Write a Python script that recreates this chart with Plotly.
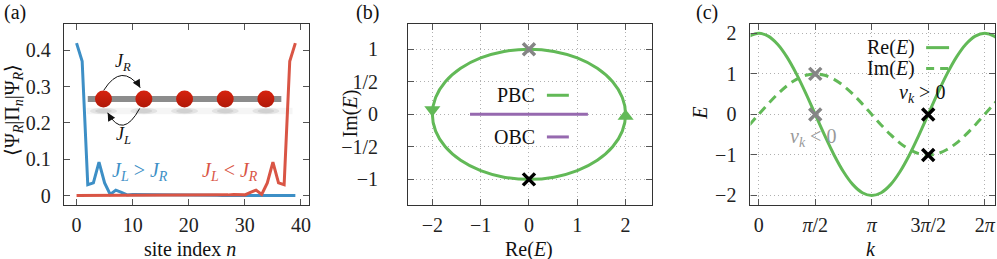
import numpy as np
import plotly.graph_objects as go

# ---------------- data ----------------
site_n = list(range(40))
psi_jl_gt_jr = [0.420, 0.370, 0.030, 0.035, 0.092, 0.035, 0.003, 0.015, 0.009, 0.002,
                0.003, 0.003, 0.002, 0.001, 0.001, 0.001, 0.001, 0.001, 0.001, 0.001,
                0.001, 0.001, 0.001, 0.001, 0.001, 0.001, 0.000, 0.000, 0.000, 0.000,
                0.000, 0.000, 0.000, 0.000, 0.000, 0.000, 0.000, 0.000, 0.000, 0.000]
psi_jl_lt_jr = [0.000, 0.000, 0.000, 0.000, 0.000, 0.000, 0.000, 0.000, 0.000, 0.000,
                0.000, 0.000, 0.000, 0.000, 0.001, 0.001, 0.001, 0.001, 0.001, 0.001,
                0.001, 0.001, 0.001, 0.001, 0.001, 0.001, 0.001, 0.002, 0.003, 0.003,
                0.002, 0.009, 0.015, 0.003, 0.035, 0.092, 0.035, 0.030, 0.370, 0.420]
chain_sites = [4.8, 12.0, 19.25, 26.5, 33.75]
chain_level = 0.266

# k in units of pi (steps of pi/12)
k_over_pi = [-1/12, 0, 1/12, 2/12, 3/12, 4/12, 5/12, 6/12, 7/12, 8/12, 9/12, 10/12, 11/12, 1,
             13/12, 14/12, 15/12, 16/12, 17/12, 18/12, 19/12, 20/12, 21/12, 22/12, 23/12, 2,
             25/12, 26/12]
re_E = [1.932, 2.000, 1.932, 1.732, 1.414, 1.000, 0.518, 0.000, -0.518, -1.000, -1.414, -1.732,
        -1.932, -2.000, -1.932, -1.732, -1.414, -1.000, -0.518, 0.000, 0.518, 1.000, 1.414,
        1.732, 1.932, 2.000, 1.932, 1.732]
im_E = [-0.259, 0.000, 0.259, 0.500, 0.707, 0.866, 0.966, 1.000, 0.966, 0.866, 0.707, 0.500,
        0.259, 0.000, -0.259, -0.500, -0.707, -0.866, -0.966, -1.000, -0.966, -0.866, -0.707,
        -0.500, -0.259, 0.000, 0.259, 0.500]
obc_re = [-1.22, 1.22]
obc_im = [0.0, 0.0]
pbc_arrow_re = [-2.0, 2.0]
pbc_arrow_im = [0.07, -0.03]
cross_gray_b = ([0.0], [1.0])
cross_black_b = ([0.0], [-1.0])
cross_gray_c = ([0.5, 0.5], [1.0, 0.0])      # k/pi, E
cross_black_c = ([1.5, 1.5], [0.0, -1.0])

ticks_a_x = [0, 10, 20, 30, 40]
ticks_a_y = [0, 0.1, 0.2, 0.3, 0.4]
ticks_a_y_text = ["0", "0.1", "0.2", "0.3", "0.4"]
ticks_b_x = [-2, -1, 0, 1, 2]
ticks_b_x_text = ["−2", "−1", "0", "1", "2"]
ticks_b_y = [-1, -0.5, 0, 0.5, 1]
ticks_b_y_text = ["−1", "−1/2", "0", "1/2", "1"]
ticks_c_x_over_pi = [0, 0.5, 1, 1.5, 2]
ticks_c_x_text = ["0", "<i>π</i>/2", "<i>π</i>", "3<i>π</i>/2", "2<i>π</i>"]
ticks_c_y = [-2, -1, 0, 1, 2]
ticks_c_y_text = ["−2", "−1", "0", "1", "2"]

# ---------------- style ----------------
W, H = 997, 259
FONT = "Liberation Serif"
FS = 20
BLUE = "#3d8fc6"
RED = "#d95545"
GREEN = "#62b957"
PURPLE = "#9669af"
GRAY = "#858585"
FRAME = "#333333"

k_vals = [v * np.pi for v in k_over_pi]


def px_x(p):
    return p / W


def px_y(p):
    return 1 - p / H


fig = go.Figure()

# panel (a)
fig.add_trace(go.Scatter(x=site_n, y=psi_jl_gt_jr, mode="lines", line=dict(color=BLUE, width=3),
                         xaxis="x", yaxis="y", showlegend=False))
fig.add_trace(go.Scatter(x=site_n, y=psi_jl_lt_jr, mode="lines", line=dict(color=RED, width=3),
                         xaxis="x", yaxis="y", showlegend=False))
fig.add_trace(go.Scatter(x=chain_sites, y=[chain_level] * len(chain_sites), mode="markers",
                         marker=dict(color="#d6230f", size=17, line=dict(width=0),
                                     gradient=dict(type="vertical", color="#b01808")),
                         xaxis="x", yaxis="y", showlegend=False))

# panel (b)
fig.add_trace(go.Scatter(x=re_E[1:26], y=im_E[1:26], mode="lines", line=dict(color=GREEN, width=3, shape="spline"),
                         xaxis="x2", yaxis="y2", showlegend=False))
fig.add_trace(go.Scatter(x=obc_re, y=obc_im, mode="lines", line=dict(color=PURPLE, width=3),
                         xaxis="x2", yaxis="y2", showlegend=False))
fig.add_trace(go.Scatter(x=[pbc_arrow_re[0]], y=[pbc_arrow_im[0]], mode="markers",
                         marker=dict(symbol="triangle-down", size=14, color=GREEN),
                         xaxis="x2", yaxis="y2", showlegend=False))
fig.add_trace(go.Scatter(x=[pbc_arrow_re[1]], y=[pbc_arrow_im[1]], mode="markers",
                         marker=dict(symbol="triangle-up", size=14, color=GREEN),
                         xaxis="x2", yaxis="y2", showlegend=False))
fig.add_trace(go.Scatter(x=cross_gray_b[0], y=cross_gray_b[1], mode="markers",
                         marker=dict(symbol="x-thin", size=12, line=dict(color=GRAY, width=3.5)),
                         xaxis="x2", yaxis="y2", showlegend=False))
fig.add_trace(go.Scatter(x=cross_black_b[0], y=cross_black_b[1], mode="markers",
                         marker=dict(symbol="x-thin", size=12, line=dict(color="black", width=3.5)),
                         xaxis="x2", yaxis="y2", showlegend=False))

# panel (c)
fig.add_trace(go.Scatter(x=k_vals, y=re_E, mode="lines", line=dict(color=GREEN, width=3, shape="spline"),
                         xaxis="x3", yaxis="y3", showlegend=False))
fig.add_trace(go.Scatter(x=k_vals, y=im_E, mode="lines",
                         line=dict(color=GREEN, width=3, shape="spline", dash="9px,6px"),
                         xaxis="x3", yaxis="y3", showlegend=False))
fig.add_trace(go.Scatter(x=[v * np.pi for v in cross_gray_c[0]], y=cross_gray_c[1], mode="markers",
                         marker=dict(symbol="x-thin", size=12, line=dict(color=GRAY, width=3.5)),
                         xaxis="x3", yaxis="y3", showlegend=False))
fig.add_trace(go.Scatter(x=[v * np.pi for v in cross_black_c[0]], y=cross_black_c[1], mode="markers",
                         marker=dict(symbol="x-thin", size=12, line=dict(color="black", width=3.5)),
                         xaxis="x3", yaxis="y3", showlegend=False))


def axis(domain, rng, tickvals, ticktext=None, grid=False, standoff=4, anchor=None):
    d = dict(domain=domain, range=rng, tickvals=tickvals, ticks="inside", ticklen=6,
             tickcolor="#555555", tickwidth=1, showline=True, linecolor=FRAME, linewidth=1.2,
             mirror="allticks", zeroline=False, showgrid=grid,
             gridcolor="#b0b0b0", griddash="1px,3px", gridwidth=1,
             tickfont=dict(family=FONT, size=FS, color="#222"), ticklabelstandoff=standoff,
             anchor=anchor, fixedrange=True)
    if ticktext is not None:
        d["ticktext"] = ticktext
    return d


yd = [px_y(206), px_y(23)]
XS = 1
fig.update_layout(
    width=W, height=H, margin=dict(l=0, r=0, t=0, b=0),
    paper_bgcolor="white", plot_bgcolor="white",
    xaxis=axis([px_x(64), px_x(310)], [-2.26, 41.5], ticks_a_x, standoff=XS, anchor="y"),
    yaxis=axis(yd, [-0.027, 0.473], ticks_a_y, ticks_a_y_text, standoff=8, anchor="x"),
    xaxis2=axis([px_x(409), px_x(653)], [-2.5, 2.54], ticks_b_x, ticks_b_x_text, grid=True, standoff=XS, anchor="y2"),
    yaxis2=axis(yd, [-1.4, 1.39], ticks_b_y, ticks_b_y_text, grid=True, standoff=25, anchor="x2"),
    xaxis3=axis([px_x(752), 1.0], [-0.23, 6.57], [v * np.pi for v in ticks_c_x_over_pi], ticks_c_x_text,
                grid=True, standoff=XS, anchor="y3"),
    yaxis3=axis(yd, [-2.245, 2.235], ticks_c_y, ticks_c_y_text, grid=True, standoff=9, anchor="x3"),
)

shapes = []
# inset chain: shadow band + shadows
shapes.append(dict(type="rect", xref="x", yref="y", x0=1.8, x1=38.5, y0=0.224, y1=0.242,
                   fillcolor="rgba(0,0,0,0.04)", line=dict(width=0), layer="below"))
for s in chain_sites:
    shapes.append(dict(type="circle", xref="x", yref="y", x0=s - 2.4, x1=s + 2.4, y0=0.224, y1=0.242,
                       fillcolor="rgba(0,0,0,0.07)", line=dict(width=0), layer="below"))
    shapes.append(dict(type="circle", xref="x", yref="y", x0=s - 1.5, x1=s + 1.5, y0=0.227, y1=0.239,
                       fillcolor="rgba(0,0,0,0.08)", line=dict(width=0), layer="below"))
shapes.append(dict(type="line", xref="x", yref="y", x0=2.0, x1=36.5, y0=chain_level, y1=chain_level,
                   line=dict(color="#8c8c8c", width=6), layer="below"))
# hopping arcs
shapes.append(dict(type="path", xref="x", yref="y", path="M 4.85,0.290 Q 8.05,0.368 11.35,0.297",
                   line=dict(color="#111", width=1)))
shapes.append(dict(type="path", xref="x", yref="y", path="M 11.25,0.240 Q 8.25,0.154 5.55,0.228",
                   line=dict(color="#111", width=1)))

# legend samples
shapes.append(dict(type="line", xref="paper", yref="paper", x0=px_x(548), x1=px_x(570), y0=px_y(95), y1=px_y(95),
                   line=dict(color=GREEN, width=3)))
shapes.append(dict(type="line", xref="paper", yref="paper", x0=px_x(548), x1=px_x(570), y0=px_y(137), y1=px_y(137),
                   line=dict(color=PURPLE, width=3)))
shapes.append(dict(type="line", xref="paper", yref="paper", x0=px_x(928), x1=px_x(951), y0=px_y(47), y1=px_y(47),
                   line=dict(color=GREEN, width=3)))
shapes.append(dict(type="line", xref="paper", yref="paper", x0=px_x(928), x1=px_x(951), y0=px_y(68), y1=px_y(68),
                   line=dict(color=GREEN, width=3, dash="8px,6px")))
fig.update_layout(shapes=shapes)

ann = []


def txt(text, x, y, size=FS, color="#111", xanchor="center", angle=0, xref="paper", yref="paper"):
    ann.append(dict(text=text, x=x, y=y, xref=xref, yref=yref, showarrow=False, xanchor=xanchor,
                    yanchor="middle", textangle=angle, borderpad=0,
                    font=dict(family=FONT, size=size, color=color)))


# panel labels
txt("(a)", px_x(15), px_y(12))
txt("(b)", px_x(368), px_y(12))
txt("(c)", px_x(708), px_y(12))
# axis titles
txt("site index <i>n</i>", px_x(190), px_y(250))
txt("Re(<i>E</i>)", px_x(530), px_y(250))
txt("<i>k</i>", px_x(873), px_y(250))
txt("⟨Ψ<sub><i>R</i></sub>|Π<sub><i>n</i></sub>|Ψ<sub><i>R</i></sub>⟩", px_x(13), px_y(110), angle=-90)
txt("Im(<i>E</i>)", px_x(351), px_y(113), angle=-90)
txt("<i>E</i>", px_x(702), px_y(113), angle=-90)
# panel (a) labels
txt("<i>J<sub>L</sub></i> > <i>J<sub>R</sub></i>", 11.3, 0.066, color=BLUE, xref="x", yref="y")
txt("<i>J<sub>L</sub></i> < <i>J<sub>R</sub></i>", 27.4, 0.066, color=RED, xref="x", yref="y")
txt("<i>J<sub>R</sub></i>", 8.3, 0.367, size=18, xref="x", yref="y")
txt("<i>J<sub>L</sub></i>", 8.3, 0.165, size=18, xref="x", yref="y")
# arrowheads on arcs
ann.append(dict(x=11.35, y=0.297, xref="x", yref="y", ax=-4, ay=-7, axref="pixel", ayref="pixel",
                text="", showarrow=True, arrowhead=2, arrowsize=1.6, arrowwidth=1, arrowcolor="#111"))
ann.append(dict(x=5.55, y=0.228, xref="x", yref="y", ax=4, ay=7, axref="pixel", ayref="pixel",
                text="", showarrow=True, arrowhead=2, arrowsize=1.6, arrowwidth=1, arrowcolor="#111"))
# legends
txt("PBC", px_x(537), px_y(95), xanchor="right")
txt("OBC", px_x(537), px_y(137), xanchor="right")
txt("Re(<i>E</i>)", px_x(918), px_y(47), xanchor="right")
txt("Im(<i>E</i>)", px_x(918), px_y(68), xanchor="right")
txt("<i>v<sub>k</sub></i> > 0", 4.55, 0.52, xref="x3", yref="y3")
txt("<i>v<sub>k</sub></i> < 0", 1.50, -0.56, color="#999999", xref="x3", yref="y3")
fig.update_layout(annotations=ann)

fig.write_html("out.html", config={"displayModeBar": False},
               post_script="document.body.style.margin='0';document.body.style.overflow='hidden';")
